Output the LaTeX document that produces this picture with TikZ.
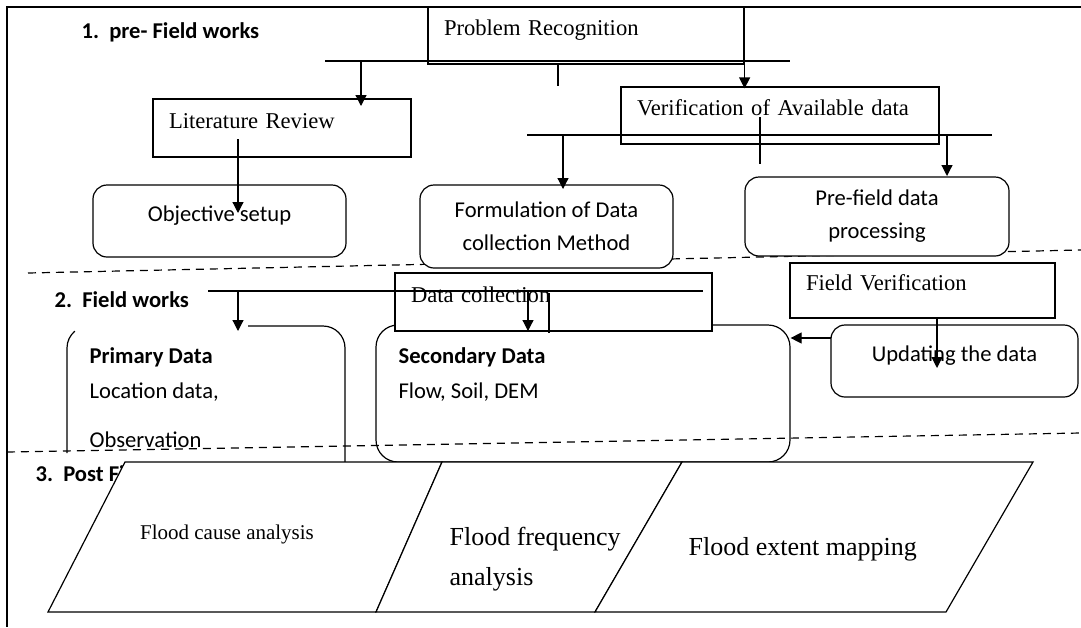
\documentclass[tikz,border=0pt]{standalone}
\usepackage{fontspec}
\setmainfont{Liberation Serif}
\newfontfamily\calibri{Carlito}
\usetikzlibrary{arrows.meta}

\begin{document}
\begin{tikzpicture}[x=1pt,y=-1pt,line width=1.2pt,
	>={Triangle[length=11pt,width=11pt]},
	sqbox/.style={draw,fill=white,rectangle,align=left,inner xsep=16pt,inner ysep=0pt,text height=15pt,text depth=15pt,font=\fontsize{22.6}{27}\selectfont},
	rndbox/.style={draw,fill=white,rounded corners=14pt,align=center,inner sep=0pt,font=\calibri\fontsize{22.6}{33}\selectfont},
	midline/.style={text height=12pt,text depth=12pt},
	sect/.style={anchor=base west,inner sep=0pt,font=\calibri\bfseries\fontsize{22.6}{27}\selectfont},
	lbl/.style={anchor=base west,inner sep=0pt,font=\calibri\fontsize{22.6}{27}\selectfont},
	flood/.style={inner sep=0pt,font=\fontsize{26}{40}\selectfont},
	sepline/.style={dash pattern=on 8pt off 6pt}]
	\useasboundingbox (0,0) rectangle (1081,627);
	\draw (1081,7) -- (7,7) -- (7,627);
	\draw[sepline] (28,273) -- (1081,250);
	\draw[sepline] (7,452) -- (1081,433);
	
	\node[sect] (sec1) at (81,38) {1.\ \ pre- Field works};
	\node[sect] (sec2) at (54,307) {2.\ \ Field works};
	\node[sect] (sec3) at (35,481) {3.\ \ Post Field works};
	
	\node[sqbox,text width=284pt,minimum height=57pt] (probrec) at (586,35.5) {Problem Recognition};
	\node[sqbox,text width=226pt,minimum height=58pt] (litrev) at (282,128) {Literature Review};
	\node[sqbox,text width=286pt,minimum height=57pt] (verif) at (780,115.5) {Verification of Available data};
	\node[rndbox,midline,minimum width=253pt,minimum height=72pt] (objset) at (219.5,221) {Objective setup};
	\node[rndbox,minimum width=253pt,minimum height=83pt] (formul) at (546.5,226.5) {Formulation of Data\\collection Method};
	\node[rndbox,minimum width=264pt,minimum height=79pt] (prefield) at (877,216.5) {Pre-field data\\processing};
	
	\node[draw,rounded corners=22pt,minimum width=414pt,minimum height=137pt] (secbox) at (583,393.5) {};
	\draw (67,453) -- (67,348) arc[start angle=180,end angle=130,radius=22pt];
	\draw[rounded corners=22pt] (248,326) -- (345,326) -- (345,462);
	\node[sqbox,text width=285pt,minimum height=58pt] (datacoll) at (553.5,302) {Data collection};
	\node[sqbox,text width=233pt,minimum height=55pt] (fieldver) at (922.5,290.5) {Field Verification};
	\node[rndbox,midline,minimum width=247pt,minimum height=72pt] (update) at (954.5,361) {Updating the data};
	
	\node[lbl,font=\calibri\bfseries\fontsize{22.6}{27}\selectfont] (primhd) at (89,363) {Primary Data};
	\node[lbl] (loc) at (89,398) {Location data,};
	\node[lbl] (obs) at (89,447) {Observation};
	\node[lbl,font=\calibri\bfseries\fontsize{22.6}{27}\selectfont] (sechd) at (398,363) {Secondary Data};
	\node[lbl] (flow) at (398,398) {Flow, Soil, DEM};
	
	\draw[fill=white] (125,462) -- (442,462) -- (376,612) -- (48,612) -- cycle;
	\draw[fill=white] (442,462) -- (682,462) -- (595,612) -- (376,612) -- cycle;
	\draw[fill=white] (682,462) -- (1033,462) -- (946,612) -- (595,612) -- cycle;
	\node[inner sep=0pt,anchor=base,font=\fontsize{21}{25}\selectfont] (cause) at (227,539) {Flood cause analysis};
	\node[flood,anchor=base west] (freq) at (449,545) {Flood frequency};
	\node[flood,anchor=base west] (freqb) at (449,585) {analysis};
	\node[flood,anchor=base west] (extent) at (688,555) {Flood extent mapping};
	
	\coordinate (bar1w) at (325,61);
	\coordinate (bar1e) at (790,61);
	\coordinate (bar2w) at (527,135);
	\coordinate (bar2e) at (992,135);
	\coordinate (bar3w) at (208,291);
	\coordinate (bar3e) at (703,291);
	\coordinate (litin) at (361,106);
	\coordinate (litout) at (238,139);
	\coordinate (objin) at (238,213);
	\coordinate (formin) at (563,189);
	\coordinate (prein) at (947,176);
	\coordinate (tickn) at (760,117);
	\coordinate (ticks) at (760,164);
	\coordinate (primin) at (238,331);
	\coordinate (datain) at (528,331);
	\coordinate (stubn) at (549,293);
	\coordinate (stubs) at (549,333);
	\coordinate (updin) at (937,368);
	\coordinate (updout) at (831,338);
	
	\draw (bar1w) -- (bar1e);
	\draw[->] (bar1w -| litin) -- (litin);
	\draw[->] (probrec.north east) -- ([yshift=-2pt]probrec.east |- verif.north);
	\draw ([xshift=-28pt]probrec.south) -- ([xshift=-28pt]probrec.south |- verif.north);
	\draw[->] (litout) -- (objin);
	\draw (bar2w) -- (bar2e);
	\draw[->] (bar2w -| formin) -- (formin);
	\draw (tickn) -- (ticks);
	\draw[->] (bar2e -| prein) -- (prein);
	\draw (bar3w) -- (bar3e);
	\draw[->] (bar3w -| primin) -- (primin);
	\draw[->] (bar3w -| datain) -- (datain);
	\draw (stubn) -- (stubs);
	\draw[->] (fieldver.south -| updin) -- (updin);
	\draw[->] (updout) -- (secbox.east |- updout);
\end{tikzpicture}
\end{document}
